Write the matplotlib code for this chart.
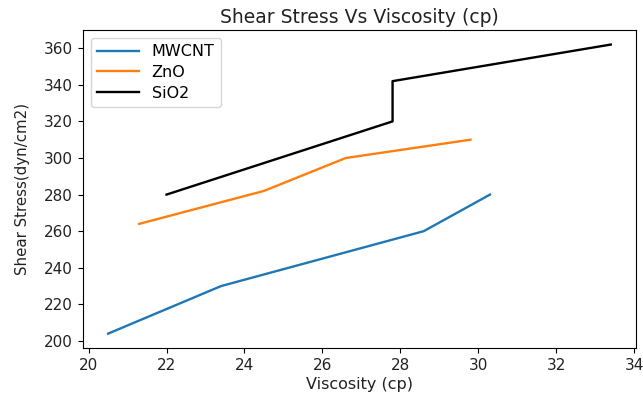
import matplotlib
matplotlib.use("Agg")
import matplotlib.pyplot as plt

# viscosity (cp) vs shear stress (dyn/cm2) for each nanofluid
mwcnt_visc = [20.5, 23.4, 28.6, 30.3]
mwcnt_stress = [204, 230, 260, 280]

zno_visc = [21.3, 24.5, 26.6, 29.8]
zno_stress = [264, 282, 300, 310]

sio2_visc = [22.0, 27.8, 27.8, 33.4]
sio2_stress = [280, 320, 342, 362]

fig, ax = plt.subplots(figsize=(6.43, 3.96), dpi=100)
fig.subplots_adjust(left=0.129, right=0.989, top=0.924, bottom=0.121)

ax.plot(mwcnt_visc, mwcnt_stress, color="#1f77b4", lw=1.7, label="MWCNT")
ax.plot(zno_visc, zno_stress, color="#ff7f0e", lw=1.7, label="ZnO")
ax.plot(sio2_visc, sio2_stress, color="black", lw=1.7, label="SiO2")

ax.set_title("Shear Stress Vs Viscosity (cp)", fontsize=13.5, pad=5, color="#222222")
ax.set_xlabel("Viscosity (cp)", fontsize=11.5, labelpad=3, color="#222222")
ax.set_ylabel("Shear Stress(dyn/cm2)", fontsize=10.8, labelpad=10, color="#222222")
ax.tick_params(labelsize=11, labelcolor="#222222")
ax.legend(loc="upper left", fontsize=11.5, handlelength=2.6,
          labelspacing=0.35, borderaxespad=0.5)

plt.savefig("out.png")
